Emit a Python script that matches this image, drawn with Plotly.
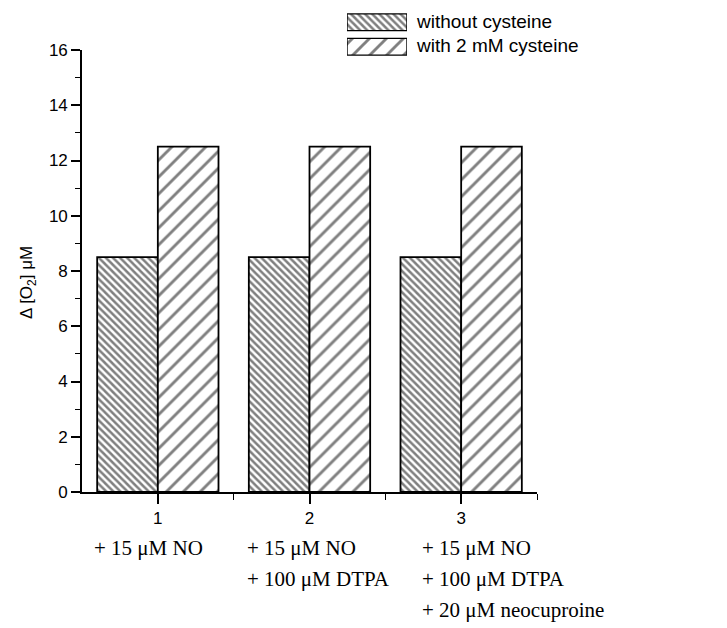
import plotly.graph_objects as go

# ---- data ----
categories = [1, 2, 3]
without_cys = [8.5, 8.5, 8.5]
with_cys = [12.5, 12.5, 12.5]
series_names = ["without cysteine", "with 2 mM cysteine"]
condition_lines = [
    ["+ 15 \u03bcM NO"],
    ["+ 15 \u03bcM NO", "+ 100 \u03bcM DTPA"],
    ["+ 15 \u03bcM NO", "+ 100 \u03bcM DTPA", "+ 20 \u03bcM neocuproine"],
]
y_ticks = [0, 2, 4, 6, 8, 10, 12, 14, 16]
y_title = "\u0394 [O<sub>2</sub>] \u03bcM"

W, H = 727, 628
SANS = "Liberation Sans, Arial, sans-serif"
SERIF = "Liberation Serif, Times New Roman, serif"

def px_x(p):
    return p / W

def px_y(p):
    return 1 - p / H

dense = dict(shape="\\", size=5, solidity=0.5, fgcolor="black", bgcolor="white")
sparse = dict(shape="/", size=12, solidity=0.24, fgcolor="black", bgcolor="white")

fig = go.Figure()
fig.add_trace(go.Bar(
    x=categories, y=without_cys, name=series_names[0],
    marker=dict(color="white", pattern=dense, line=dict(color="black", width=1.8)),
    showlegend=False, hoverinfo="skip",
))
fig.add_trace(go.Bar(
    x=categories, y=with_cys, name=series_names[1],
    marker=dict(color="white", pattern=sparse, line=dict(color="black", width=1.8)),
    showlegend=False, hoverinfo="skip",
))

# legend swatches drawn as an inset bar trace
fig.add_trace(go.Bar(
    x=[1, 1], y=[1, 0], orientation="h", width=0.68,
    xaxis="x2", yaxis="y2",
    marker=dict(color="white",
                pattern=dict(shape=["\\", "/"], size=[5, 12], solidity=[0.5, 0.24],
                             fgcolor="black", bgcolor="white"),
                line=dict(color="black", width=1.4)),
    showlegend=False, hoverinfo="skip",
))

fig.update_layout(
    width=W, height=H,
    margin=dict(l=0, r=0, t=0, b=0),
    paper_bgcolor="white", plot_bgcolor="white",
    barmode="group", bargap=0.2, bargroupgap=0,
    font=dict(family=SANS, color="black", size=17),
    xaxis=dict(
        domain=[px_x(82), px_x(537)], range=[0.5, 3.5],
        tickvals=categories, ticktext=[str(c) for c in categories],
        ticks="outside", ticklen=10, tickwidth=1.5, tickcolor="black",
        showline=True, linecolor="black", linewidth=1.6,
        showgrid=False, zeroline=False, automargin=False,
        tickfont=dict(size=17, family=SANS, color="black"),
        minor=dict(tickvals=[1.5, 2.5, 3.5], ticks="outside", ticklen=6,
                   tickwidth=1.3, tickcolor="black", showgrid=False),
    ),
    yaxis=dict(
        domain=[px_y(492), px_y(50)], range=[0, 16],
        tickvals=y_ticks,
        ticks="outside", ticklen=9, tickwidth=1.5, tickcolor="black",
        showline=True, linecolor="black", linewidth=1.6,
        showgrid=False, zeroline=False, automargin=False,
        tickfont=dict(size=17, family=SANS, color="black"),
        minor=dict(dtick=1, tick0=0, ticks="outside", ticklen=5,
                   tickwidth=1.3, tickcolor="black", showgrid=False),
    ),
    xaxis2=dict(domain=[px_x(347), px_x(407)], range=[0, 1], visible=False, fixedrange=True),
    yaxis2=dict(domain=[px_y(59), px_y(10)], range=[-0.5, 1.5], visible=False, fixedrange=True),
)

annotations = []
# y-axis title
annotations.append(dict(
    text=y_title, xref="paper", yref="paper", x=px_x(28), y=px_y(283),
    xanchor="center", yanchor="middle", textangle=-90, showarrow=False,
    font=dict(size=17, family=SANS, color="black"),
))
# legend texts
for name, ypx in zip(series_names, [22, 46]):
    annotations.append(dict(
        text=name, xref="paper", yref="paper", x=px_x(414), y=px_y(ypx),
        xanchor="left", yanchor="middle", showarrow=False,
        font=dict(size=19, family=SANS, color="black"),
    ))
# condition labels below the categories
left_px = [92, 245, 420]
line_px = [548, 579, 610]
for lines, lx in zip(condition_lines, left_px):
    for i, t in enumerate(lines):
        annotations.append(dict(
            text=t, xref="paper", yref="paper", x=px_x(lx), y=px_y(line_px[i]),
            xanchor="left", yanchor="middle", showarrow=False,
            font=dict(size=21, family=SERIF, color="black"),
        ))
fig.update_layout(annotations=annotations)

fig.write_html("out.html")
